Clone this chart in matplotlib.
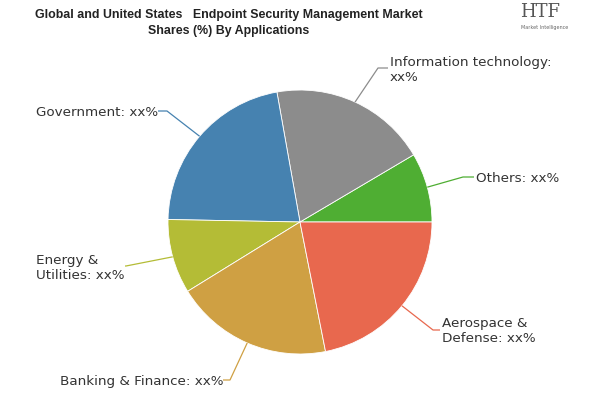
import numpy as np
import matplotlib
matplotlib.use("Agg")
import matplotlib.pyplot as plt

# Data (counter-clockwise from 3 o'clock)
categories = ["Others", "Information technology", "Government",
              "Energy & Utilities", "Banking & Finance", "Aerospace & Defense"]
shares = [8.5, 19.3, 21.9, 9.1, 19.3, 21.9]
label_texts = ["Others: xx%", "Information technology:\nxx%", "Government: xx%",
               "Energy &\nUtilities: xx%", "Banking & Finance: xx%", "Aerospace &\nDefense: xx%"]
colors = ["#4FAE33", "#8C8C8C", "#4682B0", "#B4BC36", "#CFA043", "#E8684E"]

W, H = 600, 400
fig = plt.figure(figsize=(6, 4), dpi=100)
ax = fig.add_axes([0, 0, 1, 1])

cx, cy, r = 300, H - 222, 132
wedges, _ = ax.pie(shares, colors=colors, startangle=0, counterclock=True,
                   center=(cx, cy), radius=r, frame=True,
                   wedgeprops=dict(edgecolor="white", linewidth=0.6))
ax.set_xlim(0, W)
ax.set_ylim(0, H)
ax.set_aspect("equal")
ax.axis("off")

# label layout (pixel coords, y from top): elbow, end, text anchor, ha
layout = [
    ((463, 177), (474, 177), (476, 178), "left"),
    ((378, 68), (388, 68), (390, 70), "left"),
    ((167, 111), (158, 111), (158, 112), "right"),
    ((126, 266), (125, 266), (125, 268), "right"),
    ((230, 380), (223, 380), (223, 381), "right"),
    ((433, 330), (440, 330), (442, 331), "left"),
]

for w, (elbow, end, tpos, ha), txt, col in zip(wedges, layout, label_texts, colors):
    mid = np.deg2rad((w.theta1 + w.theta2) / 2)
    ex, ey = cx + r * np.cos(mid), cy + r * np.sin(mid)
    ax.plot([ex, elbow[0], end[0]], [ey, H - elbow[1], H - end[1]],
            color=col, lw=0.9, solid_capstyle="butt")
    ax.text(tpos[0], H - tpos[1], txt, ha=ha, va="center", multialignment="left",
            fontsize=9.7, color="#333333", linespacing=1.2,
            family=["DejaVu Sans"])

# Title
fig.text(229 / W, 1 - 23 / H,
         "Global and United States   Endpoint Security Management Market\nShares (%) By Applications",
         ha="center", va="center", fontsize=8.9, fontweight="bold", color="#222222",
         family=["Liberation Sans", "DejaVu Sans"], linespacing=1.55)

# Logo text
fig.text(540 / W, 1 - 12 / H, "HTF", ha="center", va="center", fontsize=13,
         color="#555555", family=["DejaVu Serif"])
fig.text(545 / W, 1 - 27 / H, "Market Intelligence", ha="center", va="center",
         fontsize=3.5, color="#666666")

fig.savefig("out.png", dpi=100, facecolor="white")
